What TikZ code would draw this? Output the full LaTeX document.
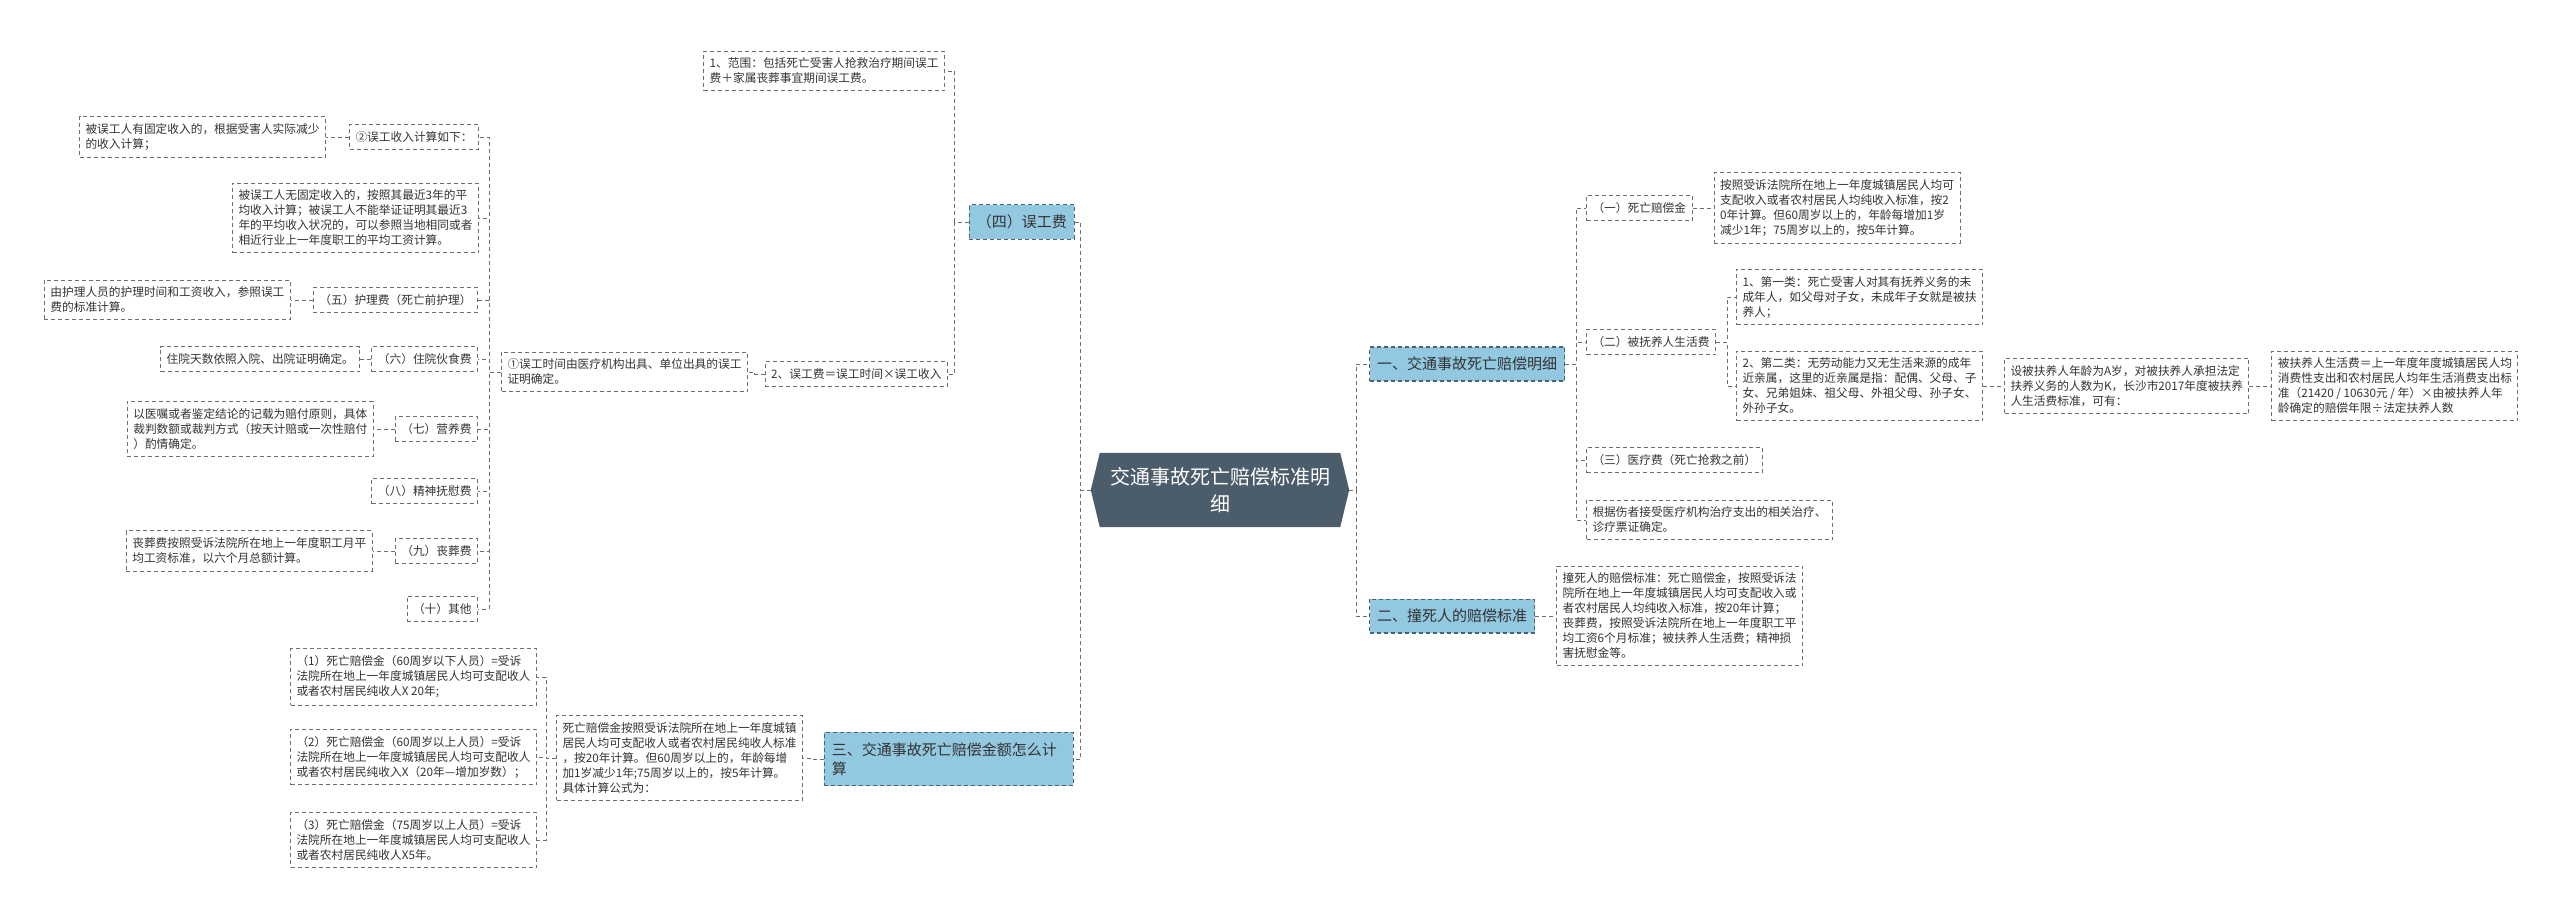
\documentclass[tikz,border=0pt]{standalone}
\usepackage{fontspec}
\setmainfont{Noto Sans CJK SC}
\usepackage{tikz}
\usetikzlibrary{positioning,backgrounds}
\definecolor{craiz}{HTML}{4B5C6B}
\definecolor{cceleste}{HTML}{92C8E0}
\definecolor{cborde}{HTML}{4A6272}
\definecolor{cgris}{HTML}{6E6E6E}
\definecolor{ctexto}{HTML}{333333}
\tikzset{
  raiz/.style={rectangle, minimum width=258pt, minimum height=74pt, align=center,
    text=white, font=\fontsize{20}{27}\selectfont},
  rama/.style={rectangle, draw=cborde, dash pattern=on 4pt off 3pt, fill=cceleste, line width=1.1pt,
    align=left, inner xsep=7.5pt, inner ysep=10pt, text=ctexto, font=\fontsize{15}{19.5}\selectfont},
  hoja/.style={rectangle, draw=cgris, dash pattern=on 4pt off 3pt, line width=1pt, fill=white,
    align=left, inner xsep=6pt, inner ysep=7pt, text=ctexto, font=\fontsize{11.7}{15}\selectfont},
  linea/.style={draw=cgris, dash pattern=on 4pt off 3pt, line width=1pt},
  izq/.style={to path={-- ++(-#1,0) |- (\tikztotarget)}},
  izq/.default=11,
  der/.style={to path={-- ++(#1,0) |- (\tikztotarget)}},
  der/.default=11,
}
\begin{document}
\begin{tikzpicture}[x=1pt, y=-1pt]
  \useasboundingbox (0,0) rectangle (2560,918);

  \node[raiz] (r) at (1220,490) {交通事故死亡赔偿标准明\\细};
  \begin{scope}[on background layer]
    \fill[white] (0,0) rectangle (2560,918);
    \fill[craiz] ([xshift=9pt]r.north west) -- ([xshift=-9pt]r.north east) -- (r.east)
      -- ([xshift=-9pt]r.south east) -- ([xshift=9pt]r.south west) -- (r.west) -- cycle;
  \end{scope}

  \node[rama, anchor=west] (a1) at (1369,364) {一、交通事故死亡赔偿明细};
  \node[rama, anchor=west] (a2) at (1369,616) {二、撞死人的赔偿标准};
  \node[rama, anchor=east] (a4) at (1075,222) {（四）误工费};
  \node[rama, anchor=east, text width=234pt] (a3) at (1074,759) {三、交通事故死亡赔偿金额怎么计\\算};
  \draw[linea] (r.west) to[izq=10] (a4.east);
  \draw[linea] (r.west) to[izq=10] (a3.east);
  \draw[linea] (r.east) to[der=7] (a1.west);
  \draw[linea] (r.east) to[der=7] (a2.west);

  \node[hoja, anchor=east] (b1) at (945,71) {1、范围：包括死亡受害人抢救治疗期间误工\\费＋家属丧葬事宜期间误工费。};
  \node[hoja, anchor=east] (b2) at (948,374) {2、误工费＝误工时间×误工收入};
  \draw[linea] (a4.west) to[izq=14] (b1.east);
  \draw[linea] (a4.west) to[izq=14] (b2.east);

  \node[hoja, anchor=east] (c1) at (748,372) {①误工时间由医疗机构出具、单位出具的误工\\证明确定。};
  \draw[linea] (b2.west) to[izq=10] (c1.east);

  \node[hoja, anchor=east] (d2) at (479,137) {②误工收入计算如下：};
  \node[hoja, anchor=east] (d0) at (479,218) {被误工人无固定收入的，按照其最近3年的平\\均收入计算；被误工人不能举证证明其最近3\\年的平均收入状况的，可以参照当地相同或者\\相近行业上一年度职工的平均工资计算。};
  \node[hoja, anchor=east] (d5) at (478,300) {（五）护理费（死亡前护理）};
  \node[hoja, anchor=east] (d6) at (478,359) {（六）住院伙食费};
  \node[hoja, anchor=east] (d7) at (478,429) {（七）营养费};
  \node[hoja, anchor=east] (d8) at (478,491) {（八）精神抚慰费};
  \node[hoja, anchor=east] (d9) at (478,551) {（九）丧葬费};
  \node[hoja, anchor=east] (d10) at (478,609) {（十）其他};
  \draw[linea] (c1.west) to[izq=12] (d2.east);
  \draw[linea] (c1.west) to[izq=12] (d0.east);
  \draw[linea] (c1.west) to[izq=12] (d5.east);
  \draw[linea] (c1.west) to[izq=12] (d6.east);
  \draw[linea] (c1.west) to[izq=12] (d7.east);
  \draw[linea] (c1.west) to[izq=12] (d8.east);
  \draw[linea] (c1.west) to[izq=12] (d9.east);
  \draw[linea] (c1.west) to[izq=12] (d10.east);

  \node[hoja, left=23pt of d2] (e2) {被误工人有固定收入的，根据受害人实际减少\\的收入计算；};
  \node[hoja, left=22pt of d5] (e5) {由护理人员的护理时间和工资收入，参照误工\\费的标准计算。};
  \node[hoja, left=11pt of d6] (e6) {住院天数依照入院、出院证明确定。};
  \node[hoja, left=21pt of d7] (e7) {以医嘱或者鉴定结论的记载为赔付原则，具体\\裁判数额或裁判方式（按天计赔或一次性赔付\\）酌情确定。};
  \node[hoja, left=22pt of d9] (e9) {丧葬费按照受诉法院所在地上一年度职工月平\\均工资标准，以六个月总额计算。};
  \draw[linea] (d2.west) -- (e2.east);
  \draw[linea] (d5.west) -- (e5.east);
  \draw[linea] (d6.west) -- (e6.east);
  \draw[linea] (d7.west) -- (e7.east);
  \draw[linea] (d9.west) -- (e9.east);

  \node[hoja, anchor=east] (f1) at (803,758) {死亡赔偿金按照受诉法院所在地上一年度城镇\\居民人均可支配收人或者农村居民纯收人标准\\，按20年计算。但60周岁以上的，年龄每增\\加1岁减少1年;75周岁以上的，按5年计算。\\具体计算公式为：};
  \draw[linea] (a3.west) to[izq=11] (f1.east);
  \node[hoja, anchor=east] (g1) at (537,677) {（1）死亡赔偿金（60周岁以下人员）=受诉\\法院所在地上一年度城镇居民人均可支配收人\\或者农村居民纯收人X 20年;};
  \node[hoja, anchor=east] (g2) at (537,757) {（2）死亡赔偿金（60周岁以上人员）=受诉\\法院所在地上一年度城镇居民人均可支配收人\\或者农村居民纯收入X（20年—增加岁数）；};
  \node[hoja, anchor=east] (g3) at (537,840) {（3）死亡赔偿金（75周岁以上人员）=受诉\\法院所在地上一年度城镇居民人均可支配收人\\或者农村居民纯收人X5年。};
  \draw[linea] (f1.west) to[izq=10] (g1.east);
  \draw[linea] (f1.west) to[izq=10] (g2.east);
  \draw[linea] (f1.west) to[izq=10] (g3.east);

  \node[hoja, anchor=west] (h1) at (1586,208) {（一）死亡赔偿金};
  \node[hoja, anchor=west] (h2) at (1586,342) {（二）被抚养人生活费};
  \node[hoja, anchor=west] (h3) at (1586,460) {（三）医疗费（死亡抢救之前）};
  \node[hoja, anchor=west] (h4) at (1586,520) {根据伤者接受医疗机构治疗支出的相关治疗、\\诊疗票证确定。};
  \draw[linea] (a1.east) to[der=11] (h1.west);
  \draw[linea] (a1.east) to[der=11] (h2.west);
  \draw[linea] (a1.east) to[der=11] (h3.west);
  \draw[linea] (a1.east) to[der=11] (h4.west);

  \node[hoja, right=21pt of h1] (i1) {按照受诉法院所在地上一年度城镇居民人均可\\支配收入或者农村居民人均纯收入标准，按2\\0年计算。但60周岁以上的，年龄每增加1岁\\减少1年；75周岁以上的，按5年计算。};
  \draw[linea] (h1.east) -- (i1.west);
  \node[hoja, anchor=west] (i2) at (1736,297) {1、第一类：死亡受害人对其有抚养义务的未\\成年人，如父母对子女，未成年子女就是被扶\\养人；};
  \node[hoja, anchor=west] (i3) at (1736,386) {2、第二类：无劳动能力又无生活来源的成年\\近亲属，这里的近亲属是指：配偶、父母、子\\女、兄弟姐妹、祖父母、外祖父母、孙子女、\\外孙子女。};
  \draw[linea] (h2.east) to[der=11] (i2.west);
  \draw[linea] (h2.east) to[der=11] (i3.west);
  \node[hoja, right=21pt of i3] (j1) {设被扶养人年龄为A岁，对被扶养人承担法定\\扶养义务的人数为K，长沙市2017年度被扶养\\人生活费标准，可有：};
  \draw[linea] (i3.east) -- (j1.west);
  \node[hoja, right=22pt of j1] (k1) {被扶养人生活费＝上一年度年度城镇居民人均\\消费性支出和农村居民人均年生活消费支出标\\准（21420 / 10630元 / 年）×由被扶养人年\\龄确定的赔偿年限÷法定扶养人数};
  \draw[linea] (j1.east) -- (k1.west);

  \node[hoja, right=21pt of a2] (m1) {撞死人的赔偿标准：死亡赔偿金，按照受诉法\\院所在地上一年度城镇居民人均可支配收入或\\者农村居民人均纯收入标准，按20年计算；\\丧葬费，按照受诉法院所在地上一年度职工平\\均工资6个月标准；被扶养人生活费；精神损\\害抚慰金等。};
  \draw[linea] (a2.east) -- (m1.west);
\end{tikzpicture}
\end{document}
